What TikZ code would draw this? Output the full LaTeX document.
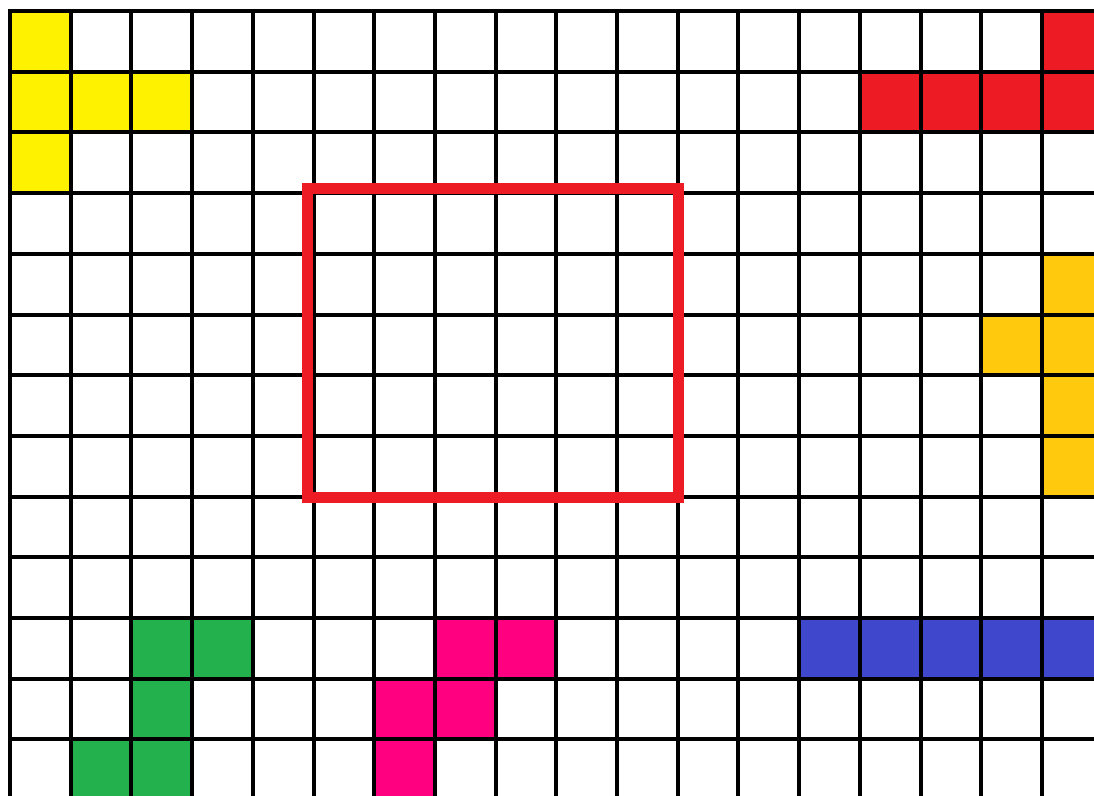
\documentclass[tikz,border=0pt]{standalone}
\definecolor{cyellow}{HTML}{FFF200}
\definecolor{cred}{HTML}{ED1C24}
\definecolor{corange}{HTML}{FFC90E}
\definecolor{cgreen}{HTML}{22B14C}
\definecolor{cpink}{HTML}{FF0080}
\definecolor{cblue}{HTML}{3F48CC}
\begin{document}
\begin{tikzpicture}[x=1pt,y=-1pt,
  gridline/.style={black,line width=4pt},
  frame/.style={draw=cred,line width=11pt,line join=miter}]
\def\p{60.7}
\useasboundingbox (0,0) rectangle (1094,795);
\fill[white] (0,0) rectangle (1094,795);
\begin{scope}
\clip (0,0) rectangle (1094,795);
% coloured cells
\foreach \c/\r/\col in {0/0/cyellow,0/1/cyellow,1/1/cyellow,2/1/cyellow,0/2/cyellow,
  17/0/cred,14/1/cred,15/1/cred,16/1/cred,17/1/cred,
  17/4/corange,17/5/corange,16/5/corange,17/6/corange,17/7/corange,
  2/10/cgreen,3/10/cgreen,2/11/cgreen,1/12/cgreen,2/12/cgreen,
  7/10/cpink,8/10/cpink,6/11/cpink,7/11/cpink,6/12/cpink,
  13/10/cblue,14/10/cblue,15/10/cblue,16/10/cblue,17/10/cblue}
  \fill[\col] ({10+\c*\p},{11+\r*\p}) rectangle ++(\p,\p);
% grid
\foreach \i in {0,...,18}
  \draw[gridline] ({10+\i*\p},9) -- ({10+\i*\p},800);
\foreach \j in {0,...,13}
  \draw[gridline] (8,{11+\j*\p}) -- (1100,{11+\j*\p});
\end{scope}
% red frame
\draw[frame] (307,188) rectangle (678,497);
\end{tikzpicture}
\end{document}
